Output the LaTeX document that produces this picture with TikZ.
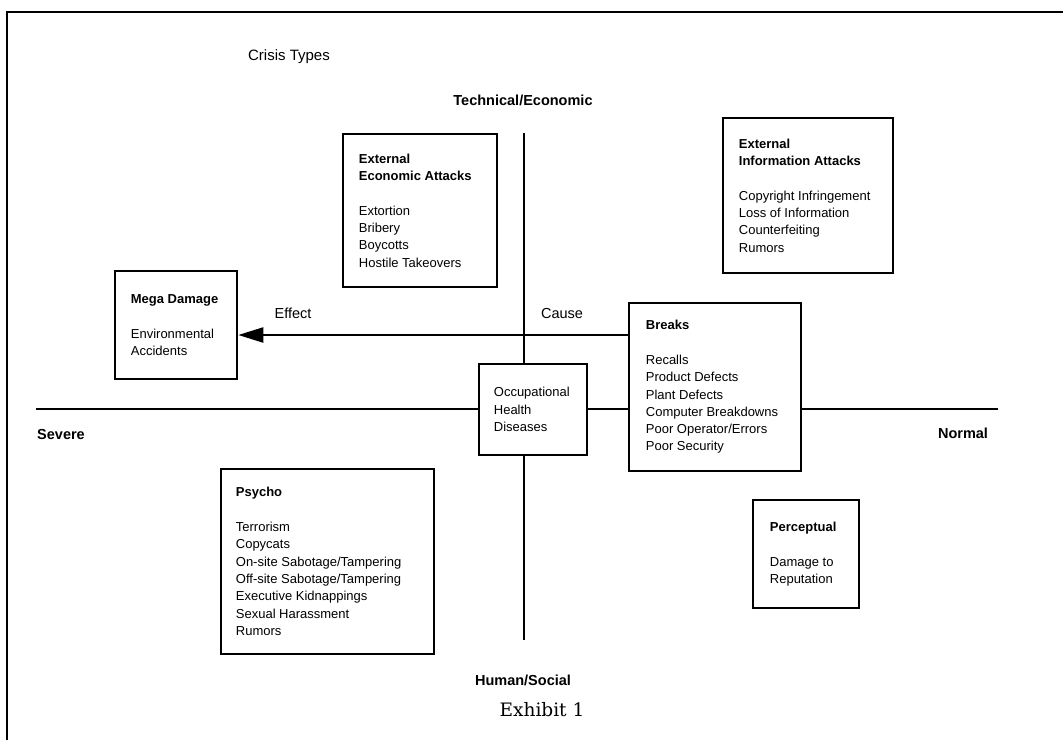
\documentclass[tikz,border=0pt]{standalone}
\usepackage{fontspec}
\setmainfont{Liberation Sans}
\newfontfamily\exfont{DejaVu Serif}
\usetikzlibrary{arrows.meta}
\begin{document}
\begin{tikzpicture}[x=1pt,y=-1pt,
  box/.style={draw, line width=2.6pt, inner sep=0pt},
  boxtext/.style={anchor=west, inner sep=0pt, align=left, font=\fontsize{13}{17.3}\selectfont},
  lab/.style={inner sep=0pt, font=\fontsize{14.5}{17}\selectfont\bfseries},
  plainlab/.style={inner sep=0pt, font=\fontsize{14.5}{17}\selectfont},
  axis/.style={line width=2.7pt},
  effarrow/.style={line width=2.3pt, -{Triangle[length=25pt,width=15pt]}}
  ]
\useasboundingbox (0,0) rectangle (1063,740);
\draw[line width=2pt] (7,740) -- (7,12) -- (1063,12);

% boxes
\node[box, minimum width=154pt, minimum height=153pt] (econ) at (420,210.5) {};
\node[box, minimum width=170pt, minimum height=155pt] (info) at (808,195.5) {};
\node[box, minimum width=122pt, minimum height=108pt] (mega) at (176,325) {};
\node[box, minimum width=108pt, minimum height=91pt] (occ) at (533,409.5) {};
\node[box, minimum width=172pt, minimum height=168pt] (brk) at (715,387) {};
\node[box, minimum width=213pt, minimum height=185pt] (psy) at (327.5,561.5) {};
\node[box, minimum width=106pt, minimum height=108pt] (perc) at (806,554) {};

% box texts
\node[boxtext] (econt) at ([xshift=17pt]econ.west) {\textbf{External}\\\textbf{Economic Attacks}\\[17.3pt]Extortion\\Bribery\\Boycotts\\Hostile Takeovers};
\node[boxtext] (infot) at ([xshift=17pt]info.west) {\textbf{External}\\\textbf{Information Attacks}\\[17.3pt]Copyright Infringement\\Loss of Information\\Counterfeiting\\Rumors};
\node[boxtext] (megat) at ([xshift=17pt]mega.west) {\textbf{Mega Damage}\\[17.3pt]Environmental\\Accidents};
\node[boxtext] (occt) at ([xshift=16pt]occ.west) {Occupational\\Health\\Diseases};
\node[boxtext] (brkt) at ([xshift=18pt]brk.west) {\textbf{Breaks}\\[17.3pt]Recalls\\Product Defects\\Plant Defects\\Computer Breakdowns\\Poor Operator/Errors\\Poor Security};
\node[boxtext] (psyt) at ([xshift=16pt]psy.west) {\textbf{Psycho}\\[17.3pt]Terrorism\\Copycats\\On-site Sabotage/Tampering\\Off-site Sabotage/Tampering\\Executive Kidnappings\\Sexual Harassment\\Rumors};
\node[boxtext] (perct) at ([xshift=18pt]perc.west) {\textbf{Perceptual}\\[17.3pt]Damage to\\Reputation};

% axes
\coordinate (vt) at (524,133);
\coordinate (vb) at (524,640);
\coordinate (hl) at (36,409);
\coordinate (hr) at (998,409);
\coordinate (ac) at (0,335);
\draw[axis] (vt) -- (vt |- occ.north);
\draw[axis] (vt |- occ.south) -- (vb);
\draw[axis] (hl) -- (hl -| occ.west);
\draw[axis] (hl -| occ.east) -- (hl -| brk.west);
\draw[axis] (hl -| brk.east) -- (hr);
\draw[effarrow] (ac -| brk.west) -- (ac -| mega.east);

% labels
\node[inner sep=0pt, font=\fontsize{15}{18}\selectfont] (title) at (289,57) {Crisis Types};
\node[lab] (tech) at (523,100) {Technical/Economic};
\node[plainlab] (effect) at (293,313) {Effect};
\node[plainlab] (cause) at (562,313) {Cause};
\node[lab] (severe) at (61,434) {Severe};
\node[lab] (normal) at (963,433) {Normal};
\node[lab] (human) at (523,680) {Human/Social};
\node[inner sep=0pt, font=\exfont\fontsize{18.5}{22}\selectfont] (exhibit) at (542,710) {Exhibit 1};
\end{tikzpicture}
\end{document}
